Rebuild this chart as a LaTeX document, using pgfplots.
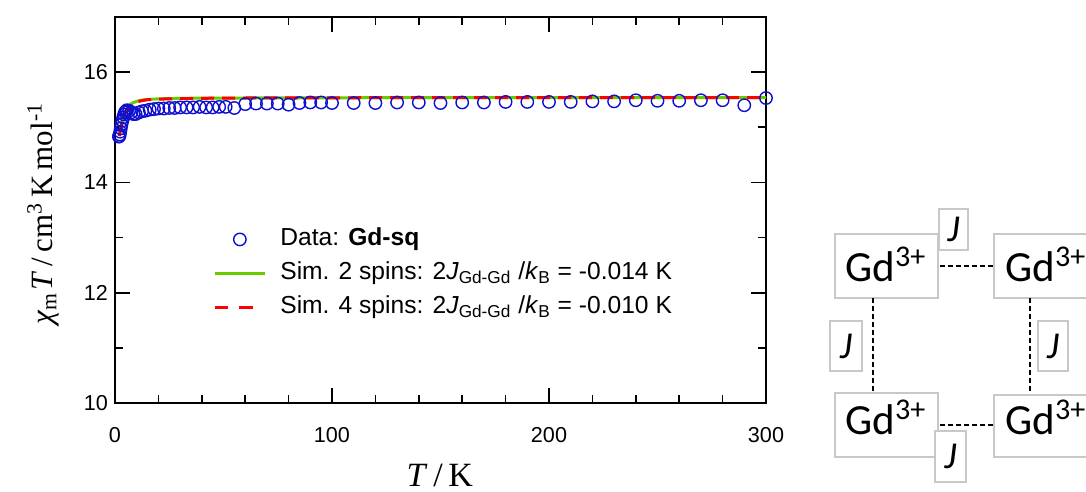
\documentclass[border=0pt]{standalone}
\usepackage{pgfplots}
\pgfplotsset{compat=1.18}
\usepackage{fontspec}
\setmainfont{Liberation Sans}
\newfontfamily\serif{Liberation Serif}
\newfontfamily\carlito{Carlito}
\definecolor{dblue}{RGB}{15,15,205}
\definecolor{lgreen}{RGB}{102,204,0}
\definecolor{bgray}{RGB}{200,200,200}
\pgfplotsset{
 legdata/.style={legend image code/.code={\draw[##1] plot coordinates {(12.5pt,0pt)};}},
 leggreen/.style={legend image code/.code={\draw[##1] (0pt,0pt) -- (25pt,0pt);}},
 legred/.style={legend image code/.code={\draw[##1, dash pattern=on 6.75pt off 5.5pt] (0pt,0pt) -- (19.5pt,0pt);}},
}
\begin{document}
\begin{tikzpicture}
\begin{axis}[
 at={(0pt,0pt)}, anchor=south west,
 width=325.5pt, height=193pt, scale only axis,
 xmin=0, xmax=300, ymin=10, ymax=17,
 xtick={0,100,200,300}, ytick={10,12,14,16},
 minor x tick num=4, minor y tick num=1,
 tick align=inside,
 major tick length=7.5pt, minor tick length=4pt,
 axis line style={line width=1pt},
 every tick/.style={black, line width=0.8pt},
 tick label style={font=\fontsize{10.8}{12}\selectfont},
 /pgf/number format/assume math mode=true,
 xticklabel style={yshift=-8.5pt},
 xlabel={\textit{T}\,/\,K},
 ylabel={\textit{χ}\textsubscript{m}\kern1pt\textit{T}\,/\,cm\textsuperscript{3}\,K\,mol\textsuperscript{-1}},
 xlabel style={at={(axis description cs:0.499,-0.189)}, anchor=center, font=\serif\fontsize{17}{20}\selectfont},
 ylabel style={at={(axis description cs:-0.1106,0.49)}, anchor=center, font=\serif\fontsize{15.5}{17}\selectfont},
 legend style={at={(axis description cs:0.1505,0.4585)}, anchor=north west, draw=none, fill=none,
   inner sep=0pt, font=\fontsize{12.3}{14}\selectfont, row sep=4pt, column sep=7pt,
   nodes={inner sep=0pt, text height=9.5pt, text depth=3.5pt}},
 legend cell align=left,
]
\addplot[only marks, mark=o, mark size=3.1pt, mark options={dblue, line width=0.7pt}, legdata]
coordinates {
(1.8,14.83)(2,14.84)(2.2,14.87)(2.4,14.92)(2.7,14.98)(3,15.05)(3.4,15.12)(3.8,15.18)
(4.2,15.23)(4.6,15.27)(5,15.29)(5.5,15.31)(6.5,15.30)(7.5,15.27)(8.5,15.24)(9.5,15.24)
(11,15.27)(12.5,15.29)(14,15.30)(16,15.32)(18,15.33)(20,15.34)(22.5,15.34)(25,15.35)
(27.5,15.35)(30,15.36)(33,15.36)(36,15.36)(39,15.37)(42,15.36)(45,15.36)(48,15.37)
(51,15.37)(55,15.35)(60,15.42)(65,15.43)(70,15.43)(75,15.43)(80,15.41)(85,15.44)
(90,15.45)(95,15.45)(100,15.44)(110,15.44)(120,15.44)(130,15.45)(140,15.45)(150,15.44)
(160,15.45)(170,15.45)(180,15.46)(190,15.46)(200,15.46)(210,15.46)(220,15.47)(230,15.47)
(240,15.49)(250,15.48)(260,15.48)(270,15.49)(280,15.49)(290,15.40)(300,15.53)
};
\addlegendentry{Data: \textbf{Gd-sq}}
\addplot[lgreen, line width=1.5pt, no marks, leggreen]
coordinates {
(2,14.86)(2.5,14.97)(3,15.07)(3.5,15.15)(4,15.22)(5,15.31)(6,15.37)(7,15.41)(8,15.44)
(10,15.47)(12,15.49)(15,15.505)(20,15.515)(30,15.525)(50,15.53)(100,15.535)(200,15.54)(300,15.54)
};
\addlegendentry{Sim. 2 spins: 2\textit{J}\textsubscript{Gd-Gd} /\textit{k}\textsubscript{B} = -0.014 K}
\addplot[red, line width=1.5pt, no marks, dash pattern=on 6.5pt off 4pt, legred]
coordinates {
(2,14.84)(2.5,14.95)(3,15.04)(3.5,15.12)(4,15.19)(5,15.28)(6,15.34)(7,15.39)(8,15.42)
(10,15.455)(12,15.48)(15,15.50)(20,15.51)(30,15.52)(50,15.53)(100,15.535)(200,15.54)(300,15.54)
};
\addlegendentry{Sim. 4 spins: 2\textit{J}\textsubscript{Gd-Gd} /\textit{k}\textsubscript{B} = -0.010 K}
\end{axis}
\begin{scope}[shift={(-57.5pt,201.5pt)}, x=0.5pt, y=-0.5pt]
 \draw[bgray, fill=white, line width=0.6pt] (835,234) rectangle (938,298);
 \draw[bgray, fill=white, line width=0.6pt] (994,234) rectangle (1100,298);
 \draw[bgray, fill=white, line width=0.6pt] (835,393) rectangle (938,457);
 \draw[bgray, fill=white, line width=0.6pt] (994,395) rectangle (1100,457);
 \draw[black, line width=0.6pt, dash pattern=on 2.5pt off 1.5pt] (940,266) -- (993,266);
 \draw[black, line width=0.6pt, dash pattern=on 2.5pt off 1.5pt] (940,425) -- (993,425);
 \draw[black, line width=0.6pt, dash pattern=on 2.5pt off 1.5pt] (873,298) -- (873,393);
 \draw[black, line width=0.6pt, dash pattern=on 2.5pt off 1.5pt] (1030,298) -- (1030,393);
 \draw[bgray, fill=white, line width=0.6pt] (939,209) rectangle (968,250);
 \draw[bgray, fill=white, line width=0.6pt] (830,321) rectangle (862,371);
 \draw[bgray, fill=white, line width=0.6pt] (1038,321) rectangle (1068,371);
 \draw[bgray, fill=white, line width=0.6pt] (935,431) rectangle (966,482);
 \foreach \px/\py in {845/282, 1005/282, 845/435, 1005/435}
   \node[anchor=base west, inner sep=0pt, font=\carlito\fontsize{21.5}{24}\selectfont] at (\px,\py) {Gd\textsuperscript{3+}};
 \foreach \px/\py in {953.5/229.5, 846/346, 1053/346, 950.5/456.5}
   \node[anchor=center, inner sep=0pt, font=\carlito\itshape\fontsize{19}{22}\selectfont] at (\px,\py) {J};
 \pgfresetboundingbox
 \path[use as bounding box] (0,0) rectangle (1086,492);
\end{scope}
\end{tikzpicture}
\end{document}
